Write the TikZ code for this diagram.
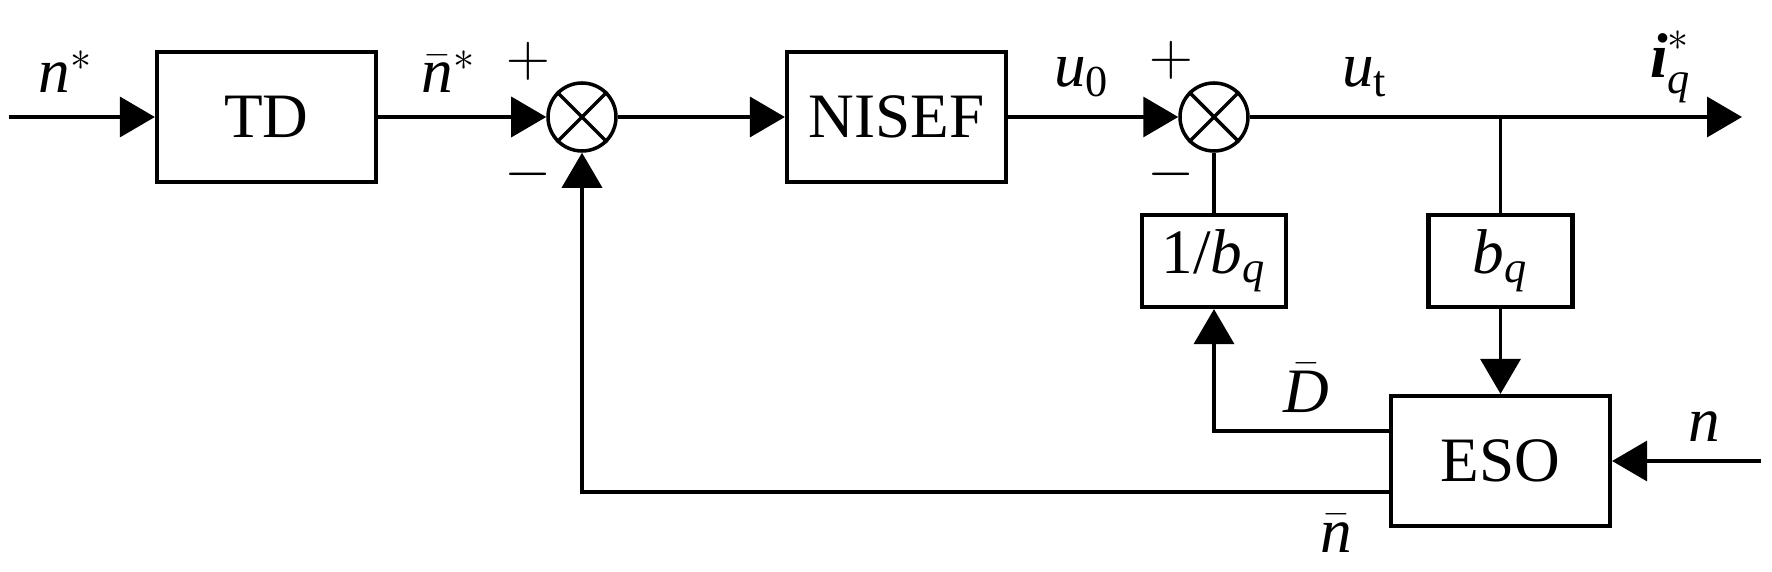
\documentclass[tikz,border=0pt]{standalone}
\usepackage{amsmath}
\usepackage{fontspec}
\setmainfont{Liberation Serif}
\usetikzlibrary{arrows.meta,positioning}

\begin{document}
\begin{tikzpicture}[>={Triangle[length=3.5mm,width=4mm]},line width=1pt,node distance=3cm,on grid,
	every node/.style={font=\fontsize{18}{21}\selectfont},
	block/.style={draw,line width=1.2pt,minimum width=2.19cm,minimum height=1.3cm},
	gain/.style={draw,line width=1.2pt,minimum width=1.44cm,minimum height=0.92cm},
	sum/.style={draw,circle,line width=1pt,minimum size=0.68cm,inner sep=0pt}]
	\useasboundingbox (0,0) rectangle (17.72,-5.72);

	\node[block] (td) at (2.665,-1.17) {TD};
	\node[sum] (s_1) [right=3.155cm of td] {};
	\node[block] (nisef) [right=3.145cm of s_1] {NISEF};
	\node[sum] (s_2) [right=3.175cm of nisef] {};
	\node[gain] (inv) [below=1.44cm of s_2] {$\text{1/}\textit{b}_{\textit{q}}$};
	\node[block] (eso) at (15.005,-4.61) {ESO};
	\node[gain] (bq) [above=2cm of eso] {$\textit{b}_{\textit{q}}$};

	% crosses in the summing points
	\foreach \s in {s_1,s_2}
		\draw (\s.45) -- (\s.225) (\s.135) -- (\s.315);

	\coordinate (in) at (0.09,-1.17);
	\coordinate (out) at (17.42,-1.17);
	\coordinate (br) at (eso |- s_2);
	\coordinate (nin) at (17.61,-4.61);

	\path[->]
	(in) edge (td)
	(td) edge (s_1)
	(s_1) edge (nisef)
	(nisef) edge (s_2)
	(s_2) edge (out)
	(bq) edge (eso)
	(nin) edge (eso);
	\draw (br) -- (bq);
	\draw (s_2) -- (s_2 |- inv.north);
	\draw[->] ([yshift=3mm]eso.west) -| (inv);
	\draw[->] ([yshift=-3.1mm]eso.west) -| (s_1);

	% signal names
	\node[anchor=base] (l_nstar) at (0.66,-0.93) {$\textit{n}^{*}$};
	\node[anchor=base] (l_nbstar) at (4.49,-0.93) {$\bar{\textit{n}}^{*}$};
	\node[anchor=base] (l_u0) at (10.82,-0.87) {$\textit{u}_{\text{0}}$};
	\node[anchor=base] (l_ut) at (13.65,-0.87) {$\textit{u}_{\text{t}}$};
	\node[anchor=base] (l_iq) at (16.71,-0.78) {$\textbf{\textit{i}}^{*}_{\textit{q}}$};
	\node[anchor=base] (l_d) at (13.06,-4.13) {$\bar{\textit{D}}$};
	\node[anchor=base] (l_nb) at (13.36,-5.52) {$\bar{\textit{n}}$};
	\node[anchor=base] (l_n) at (17.04,-4.42) {\textit{n}};

	% signs
	\node (p_1) at (5.28,-0.61) {$+$};
	\node (m_1) at (5.28,-1.74) {$-$};
	\node (p_2) at (11.71,-0.60) {$+$};
	\node (m_2) at (11.71,-1.74) {$-$};
\end{tikzpicture}
\end{document}
